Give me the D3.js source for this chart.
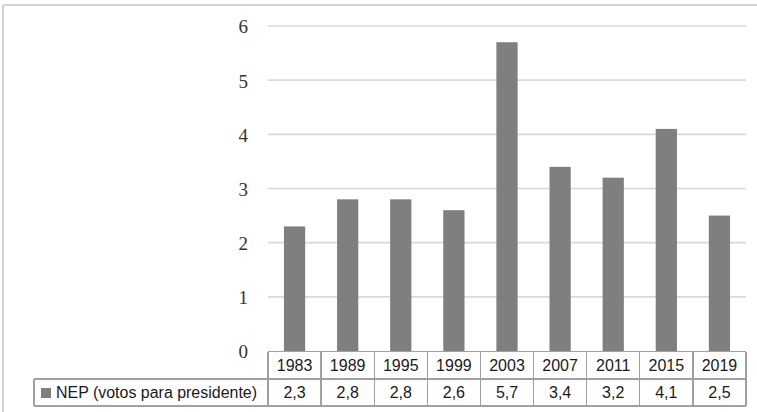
<!DOCTYPE html>
<html>
<head>
<meta charset="utf-8">
<script src="https://cdn.jsdelivr.net/npm/d3@7"></script>
<style>
  html, body { margin: 0; padding: 0; background: #fff; }
  svg { display: block; }
</style>
</head>
<body>
<svg id="chart" width="757" height="412"></svg>
<script>
// Effective number of parties (votes for president), by election year
const years = ["1983", "1989", "1995", "1999", "2003", "2007", "2011", "2015", "2019"];
const nepValues = [2.3, 2.8, 2.8, 2.6, 5.7, 3.4, 3.2, 4.1, 2.5];
const yTicks = [0, 1, 2, 3, 4, 5, 6];
const seriesName = "NEP (votos para presidente)";

const W = 757, H = 412;
const plot = { left: 268, right: 746, top: 26, bottom: 351 };
const tableRows = { top: 351.5, mid: 379, bottom: 406 };
const legendLeft = 34;

const barColor = "#7f7f7f";
const gridColor = "#d9d9d9";
const tableColor = "#a0a0a0";
const frameColor = "#d4d4d4";

const svg = d3.select("#chart");

// Outer chart-area frame (only top and left edges fall inside the view)
svg.append("line").attr("x1", 3).attr("x2", W).attr("y1", 5).attr("y2", 5)
  .attr("stroke", frameColor).attr("stroke-width", 2);
svg.append("line").attr("x1", 3).attr("x2", 3).attr("y1", 5).attr("y2", H)
  .attr("stroke", frameColor).attr("stroke-width", 2);

const x = d3.scaleBand().domain(years).range([plot.left, plot.right]).padding(0);
const y = d3.scaleLinear().domain([0, 6]).range([plot.bottom, plot.top]);

// Horizontal gridlines
svg.append("g").selectAll("line").data(yTicks.filter(d => d > 0)).join("line")
  .attr("x1", plot.left).attr("x2", plot.right)
  .attr("y1", d => y(d)).attr("y2", d => y(d))
  .attr("stroke", gridColor).attr("stroke-width", 1.6);

// Value axis labels
const yAxis = d3.axisLeft(y).tickValues(yTicks).tickSize(0).tickPadding(0)
  .tickFormat(d3.format("d"));
const yg = svg.append("g").attr("transform", `translate(${248},0)`).call(yAxis);
yg.select(".domain").remove();
yg.selectAll("text")
  .attr("font-family", "'Liberation Serif', 'Times New Roman', serif")
  .attr("font-size", 19).attr("fill", "#333").attr("dy", "0.36em");

// Bars
const barW = x.bandwidth() * 0.4;
svg.append("g").selectAll("rect").data(years).join("rect")
  .attr("x", (d) => x(d) + (x.bandwidth() - barW) / 2)
  .attr("width", barW)
  .attr("y", (d, i) => y(nepValues[i]))
  .attr("height", (d, i) => y(0) - y(nepValues[i]))
  .attr("fill", barColor);

// Data table under the category axis
const table = svg.append("g")
  .attr("stroke", tableColor).attr("stroke-width", 1.3).attr("shape-rendering", "crispEdges");
table.append("line").attr("x1", plot.left).attr("x2", plot.right)
  .attr("y1", tableRows.top).attr("y2", tableRows.top);
table.append("line").attr("x1", legendLeft).attr("x2", plot.right)
  .attr("y1", tableRows.mid).attr("y2", tableRows.mid);
table.append("line").attr("x1", legendLeft).attr("x2", plot.right)
  .attr("y1", tableRows.bottom).attr("y2", tableRows.bottom);
table.append("line").attr("x1", legendLeft).attr("x2", legendLeft)
  .attr("y1", tableRows.mid).attr("y2", tableRows.bottom);
table.selectAll("line.col").data(years.concat(["end"])).join("line")
  .attr("class", "col")
  .attr("x1", d => d === "end" ? plot.right : x(d))
  .attr("x2", d => d === "end" ? plot.right : x(d))
  .attr("y1", tableRows.top).attr("y2", tableRows.bottom);

const sans = "'Liberation Sans', Arial, sans-serif";
const cx = d => x(d) + x.bandwidth() / 2;

svg.append("g").selectAll("text").data(years).join("text")
  .attr("x", cx).attr("y", 370.5)
  .attr("text-anchor", "middle")
  .attr("font-family", sans).attr("font-size", 16).attr("fill", "#1a1a1a")
  .text(d => d);

svg.append("g").selectAll("text").data(years).join("text")
  .attr("x", cx).attr("y", 398)
  .attr("text-anchor", "middle")
  .attr("font-family", sans).attr("font-size", 16).attr("fill", "#1a1a1a")
  .text((d, i) => String(nepValues[i]).replace(".", ","));

// Legend key in the table's row header
svg.append("rect").attr("x", 41).attr("y", 388).attr("width", 10).attr("height", 10)
  .attr("fill", barColor);
svg.append("text").attr("x", 56).attr("y", 398)
  .attr("font-family", sans).attr("font-size", 16).attr("fill", "#1a1a1a")
  .attr("textLength", 201).attr("lengthAdjust", "spacingAndGlyphs")
  .text(seriesName);
</script>
</body>
</html>
